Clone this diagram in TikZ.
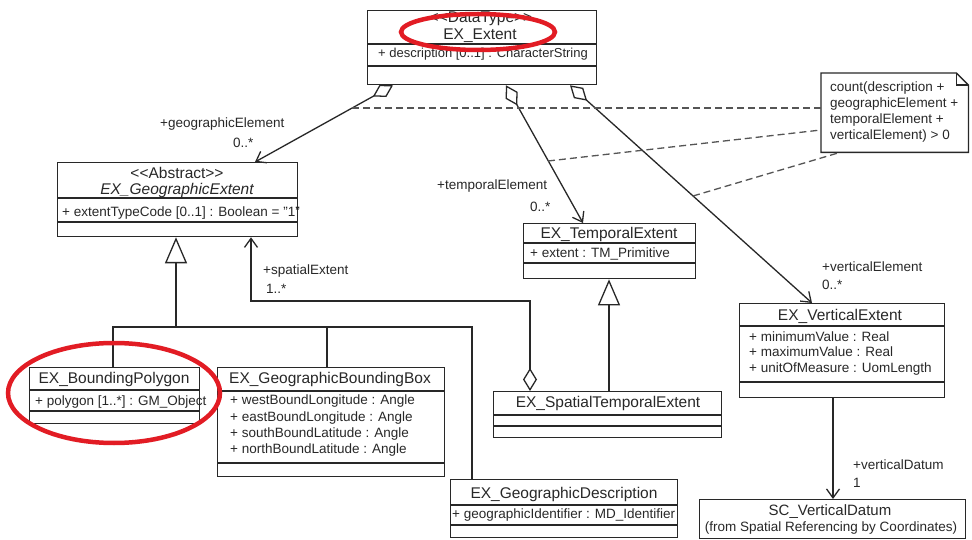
\documentclass[tikz,border=0pt]{standalone}
\usepackage{fontspec}
\setmainfont{Liberation Sans}
\usetikzlibrary{arrows.meta,calc}
\definecolor{lc}{RGB}{40,40,40}
\definecolor{tc}{RGB}{40,40,40}
\definecolor{dc}{RGB}{85,85,85}
\definecolor{redc}{RGB}{226,28,36}
\tikzset{
  ln/.style={draw=lc, line width=1.3pt},
  clsbox/.style={draw=lc, line width=1.3pt, fill=white, inner sep=0pt, anchor=north west},
  nm/.style={font=\fontsize{15.5}{17}\selectfont, inner sep=0pt, text=tc, anchor=base},
  attr/.style={font=\fontsize{13.5}{15}\selectfont, inner sep=0pt, text=tc, anchor=base west},
  lb/.style={font=\fontsize{13.5}{15}\selectfont, inner sep=0pt, text=tc, anchor=base west},
  navtip/.style={-{Straight Barb[length=9pt,width=13pt]}},
  nav/.style={ln, navtip},
  aggnav/.style={ln, {Diamond[open,length=23pt,width=14pt]}-{Straight Barb[length=9pt,width=13pt]}},
  gen/.style={ln, -{Triangle[open,length=26pt,width=22pt]}},
  dline/.style={draw=dc, line width=1.3pt, dash pattern=on 7pt off 4pt},
  redmark/.style={draw=redc, line width=4.5pt},
}
\begin{document}
\begin{tikzpicture}[x=1pt,y=-1pt]
\useasboundingbox (0,0) rectangle (972,540);
\fill[white] (0,0) rectangle (972,540);

% ---------- class boxes ----------
\node[clsbox, minimum width=229pt, minimum height=74pt] (ext) at (367,10) {};
\node[clsbox, minimum width=240pt, minimum height=74pt] (geo) at (57,162) {};
\node[clsbox, minimum width=172pt, minimum height=55pt] (temp) at (523,223) {};
\node[clsbox, minimum width=205pt, minimum height=94pt] (vert) at (739,303) {};
\node[clsbox, minimum width=170pt, minimum height=56pt] (bpoly) at (29,367) {};
\node[clsbox, minimum width=227pt, minimum height=109pt] (bbox) at (217,367) {};
\node[clsbox, minimum width=227pt, minimum height=58pt] (gdesc) at (450,479) {};
\node[clsbox, minimum width=228pt, minimum height=46pt] (stemp) at (493,391) {};
\node[clsbox, minimum width=266pt, minimum height=39pt] (vdatum) at (699,499) {};

% compartment separators
\foreach \b/\y in {ext/44, ext/66, geo/198, geo/222, temp/243, temp/263,
                   vert/326, vert/382, bpoly/390, bpoly/411, bbox/391, bbox/463,
                   gdesc/505, gdesc/525, stemp/415, stemp/426}
  \draw[ln] (\b.west |- 0,\y) -- (\b.east |- 0,\y);

% ---------- note ----------
\node[inner sep=0pt, minimum width=147pt, minimum height=79pt, anchor=north west] (note) at (821,73) {};
\draw[ln, fill=white] (note.north west) -- ($(note.north east)+(-12,0)$) -- ($(note.north east)+(0,12)$)
   -- (note.south east) -- (note.south west) -- cycle;
\draw[ln] ($(note.north east)+(-12,0)$) -- ($(note.north east)+(-12,12)$) -- ($(note.north east)+(0,12)$);

% ---------- texts ----------
\node[nm] (extst) at (481,23) {{<}{<}DataType{>}{>}};
\node[nm] (extn) at (480,40) {EX\_Extent};
\node[attr, font=\fontsize{13}{15}\selectfont] (exta) at (378,58) {+ description [0..1] : CharacterString};

\node[nm] (geost) at (177,179) {{<}{<}Abstract{>}{>}};
\node[nm, font=\fontsize{15.5}{17}\selectfont\itshape] (geon) at (177,194.5) {EX\_GeographicExtent};
\node[attr] (geoa) at (62,216.5) {+ extentTypeCode [0..1] : Boolean = "1"};

\node[nm] (tempn) at (609,238.5) {EX\_TemporalExtent};
\node[attr] (tempa) at (530,257.5) {+ extent : TM\_Primitive};

\node[nm] (vertn) at (840,320.5) {EX\_VerticalExtent};
\node[attr] (verta1) at (749,341.5) {+ minimumValue : Real};
\node[attr] (verta2) at (749,356.5) {+ maximumValue : Real};
\node[attr] (verta3) at (749,372.5) {+ unitOfMeasure : UomLength};

\node[nm] (bpolyn) at (114,383.5) {EX\_BoundingPolygon};
\node[attr] (bpolya) at (35,405.5) {+ polygon [1..*] : GM\_Object};

\node[nm] (bboxn) at (330,383.5) {EX\_GeographicBoundingBox};
\node[attr] (bboxa1) at (230,404.5) {+ westBoundLongitude : Angle};
\node[attr] (bboxa2) at (230,421.5) {+ eastBoundLongitude : Angle};
\node[attr] (bboxa3) at (230,437.5) {+ southBoundLatitude : Angle};
\node[attr] (bboxa4) at (230,453.5) {+ northBoundLatitude : Angle};

\node[nm] (gdescn) at (564,498.5) {EX\_GeographicDescription};
\node[attr] (gdesca) at (452,518.5) {+ geographicIdentifier : MD\_Identifier};

\node[nm] (stempn) at (608,407.5) {EX\_SpatialTemporalExtent};

\node[nm, font=\fontsize{15}{17}\selectfont] (vdatumn) at (830,515.5) {SC\_VerticalDatum};
\node[nm, font=\fontsize{13.5}{15}\selectfont] (vdatums) at (831,531.5) {(from Spatial Referencing by Coordinates)};

\node[lb] (nt1) at (830,91.5) {count(description +};
\node[lb] (nt2) at (830,107.5) {geographicElement +};
\node[lb] (nt3) at (830,123.5) {temporalElement +};
\node[lb] (nt4) at (830,139.5) {verticalElement) > 0};

% ---------- connectors ----------
\draw[aggnav] ($(ext.south west)+(26,0)$) -- ($(geo.north west)+(198,0)$);
\draw[aggnav] ($(ext.south west)+(139,0)$) -- ($(temp.north west)+(60,0)$);
\draw[aggnav] ($(ext.south west)+(203,0)$) -- ($(vert.north west)+(73,0)$);
\draw[aggnav] ($(stemp.north west)+(37,0)$) -- ++(0,-90) -| ($(geo.south west)+(194,0)$);

\coordinate (j1) at (176,327);
\draw[gen] (j1) -- (geo.south -| j1);
\draw[ln] ($(bpoly.north west)+(84,0)$) |- (j1) -| ($(gdesc.north west)+(22,0)$);
\draw[ln] ($(bbox.north west)+(110,0)$) -- ++(0,-40);

\draw[gen] ($(stemp.north west)+(116,0)$) -- ($(temp.south west)+(86,0)$);
\draw[nav] ($(vert.south west)+(94,0)$) -- ($(vdatum.north west)+(134,0)$);

% constraint dashed lines
\coordinate (d1) at (352,108);
\coordinate (d2) at (548,161);
\coordinate (d3) at (693,196);
\draw[dline] (d1) -- (note.west |- d1);
\draw[dline] (d2) -- ($(note.north west)+(0,57)$);
\draw[dline] (d3) -- ($(note.south west)+(19,0)$);

% association end labels
\node[lb] (l1) at (160,127.5) {+geographicElement};
\node[lb] (l1m) at (233,147.5) {0..*};
\node[lb] (l2) at (437,189.5) {+temporalElement};
\node[lb] (l2m) at (530,211.5) {0..*};
\node[lb] (l3) at (822,271.5) {+verticalElement};
\node[lb] (l3m) at (822,289.5) {0..*};
\node[lb] (l4) at (263,274.5) {+spatialExtent};
\node[lb] (l4m) at (266,293.5) {1..*};
\node[lb] (l5) at (853,469.5) {+verticalDatum};
\node[lb] (l5m) at (853,487.5) {1};

% ---------- red highlight marks ----------
\draw[redmark] (478,32) ellipse [x radius=77pt, y radius=18pt];
\draw[redmark] (114,393) ellipse [x radius=106pt, y radius=50pt];
\end{tikzpicture}
\end{document}
